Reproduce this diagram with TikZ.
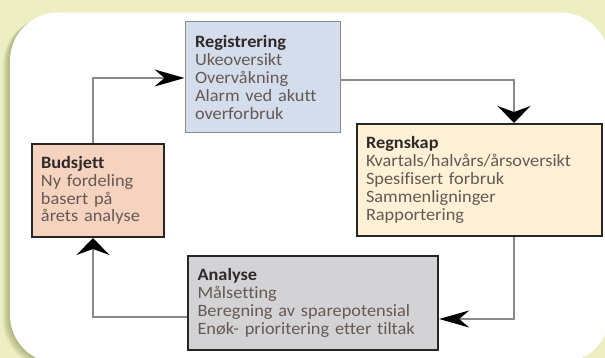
\documentclass[tikz,border=0pt]{standalone}
\usepackage{fontspec}
\setmainfont{Carlito}[FakeStretch=1.06, Ligatures=NoCommon]
\usetikzlibrary{arrows.meta}
\definecolor{bgout}{HTML}{EDEFC3}
\definecolor{regfill}{HTML}{D3DDEB}
\definecolor{regnfill}{HTML}{FEF1D6}
\definecolor{budfill}{HTML}{F5D3BF}
\definecolor{anafill}{HTML}{D3D3D5}
\definecolor{titlecol}{HTML}{2E2A2A}
\definecolor{bodycol}{HTML}{655954}
\definecolor{linecol}{HTML}{8A8A8A}
\definecolor{shadowcol}{HTML}{8A8C50}
\tikzset{
  boxstyle/.style={draw=#1, rectangle, inner sep=0pt, align=left, font=\fontsize{17.3}{17.8}\selectfont, text=bodycol},
  hconn/.style={draw=linecol, line width=1.3pt, -{Stealth[length=30pt, width=17pt, inset=10pt, fill=black, color=black]}},
  vconn/.style={draw=linecol, line width=1.3pt, -{Stealth[length=17pt, width=33pt, inset=6pt, fill=black, color=black]}},
}
\newcommand{\ttl}[1]{{\color{titlecol}\bfseries #1}}
\begin{document}
\begin{tikzpicture}[x=1pt, y=-1pt]
\useasboundingbox (0,0) rectangle (605,358);
\fill[bgout] (0,0) rectangle (605,358);
\begin{scope}
\clip (0,0) rectangle (605,358);
\foreach \s in {1,...,8} {
  \fill[shadowcol, opacity=0.09, rounded corners=48pt] ({10-\s*0.9},{12.5+\s*0.6}) rectangle ({609-\s*0.9},{363+\s*0.6});
}
\fill[white, rounded corners=48pt] (10,12.5) rectangle (609,363);
\end{scope}
% boxes
\node[boxstyle=linecol, fill=regfill, line width=1pt, minimum width=155pt, minimum height=111pt, text width=135pt] (reg) at (262.5,77.5)
  {\ttl{Registrering}\\Ukeoversikt\\Overvåkning\\Alarm ved akutt\\overforbruk};
\node[boxstyle=black!85, fill=regnfill, line width=2pt, minimum width=245pt, minimum height=112pt, text width=227pt] (regn) at (479.5,180)
  {\ttl{Regnskap}\\Kvartals/halvårs/årsoversikt\\Spesifisert forbruk\\Sammenligninger\\Rapportering};
\node[boxstyle=black!85, fill=budfill, line width=2pt, minimum width=132pt, minimum height=93pt, text width=114pt] (bud) at (98,190.5)
  {\ttl{Budsjett}\\Ny fordeling\\basert på\\årets analyse};
\node[boxstyle=black!85, fill=anafill, line width=2.3pt, minimum width=250pt, minimum height=94pt, text width=231pt] (ana) at (313,303)
  {\ttl{Analyse}\\Målsetting\\Beregning av sparepotensial\\Enøk- prioritering etter tiltak};
% connectors
\coordinate (c1) at (93,78);
\coordinate (c2) at (514,80);
\coordinate (c3) at (514,319);
\coordinate (c4) at (93,317);
\draw[hconn] (bud.north -| c1) -- (c1) -- (c1 -| reg.west);
\draw[vconn] (reg.east |- c2) -- (c2) -- (c2 |- regn.north);
\draw[hconn] (regn.south -| c3) -- (c3) -- (c3 -| ana.east);
\draw[vconn] (ana.west |- c4) -- (c4) -- (c4 |- bud.south);
\end{tikzpicture}
\end{document}
